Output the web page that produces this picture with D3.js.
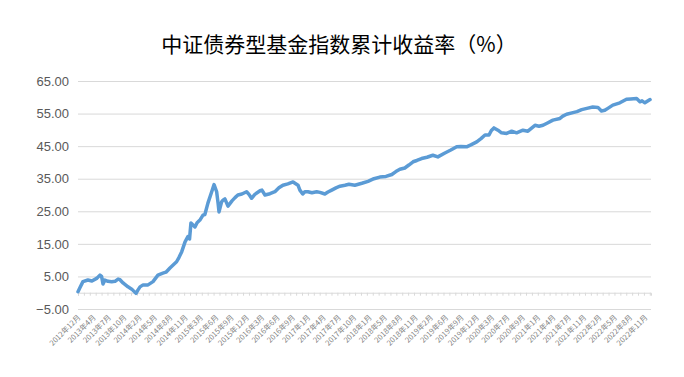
<!DOCTYPE html>
<html lang="zh">
    <head>
        <meta charset="utf-8">
        <title>中证债券型基金指数累计收益率</title>
        <script type="text/javascript" src="https://d3js.org/d3.v7.min.js"></script>
        <style type="text/css">
            body { margin: 0; background: #fff; }
        </style>
    </head>
    <body>
        <script type="text/javascript">

            const width = 684;
            const height = 377;
            const plotLeft = 78, plotRight = 651, plotTop = 81, plotBottom = 309;

            // trading-day index of each sampled point, and its cumulative return (%)
            const dayIndex = [0, 8, 21, 42, 59, 79, 93, 100, 106, 114, 127, 143, 157, 170, 178, 191, 212, 228, 246, 254,
                263, 276, 297, 318, 339, 360, 373, 390, 418, 428, 440, 454, 466, 473, 479, 488, 496, 505, 517, 530,
                538, 551, 567, 577, 588, 594, 598, 609, 615, 623, 636, 653, 666, 678, 695, 715, 725, 736, 750, 772,
                780, 793, 814, 835, 852, 869, 890, 912, 933, 941, 953, 962, 975, 992, 1012, 1026, 1047, 1060, 1076, 1094,
                1111, 1132, 1149, 1174, 1204, 1230, 1255, 1280, 1306, 1331, 1348, 1365, 1386, 1403, 1421, 1437, 1457, 1480, 1505, 1526,
                1556, 1581, 1606, 1624, 1648, 1666, 1691, 1709, 1726, 1743, 1753, 1764, 1781, 1796, 1818, 1839, 1860, 1887, 1908, 1921,
                1938, 1955, 1972, 1993, 2014, 2044, 2056, 2072, 2099, 2116, 2136, 2158, 2183, 2205, 2220, 2234, 2247, 2268, 2298, 2326,
                2344, 2369, 2383, 2392, 2404, 2426];
            const returns = [0.3, 1.5, 3.4, 3.9, 3.6, 4.4, 5.4, 5.0, 2.7, 3.9, 3.5, 3.4, 3.5, 4.2, 4.0, 3.0, 1.8, 1.1, -0.2, 0.8,
                1.8, 2.4, 2.4, 3.4, 5.4, 6.0, 6.3, 7.6, 9.5, 10.8, 12.6, 15.6, 17.2, 16.5, 21.4, 20.8, 20.2, 21.5, 22.3, 23.8,
                24.0, 27.5, 31.0, 33.2, 31.0, 27.5, 24.8, 27.9, 28.4, 28.8, 26.6, 28.2, 29.2, 30.0, 30.3, 31.0, 30.2, 29.0, 30.2, 31.3,
                31.5, 30.0, 30.4, 31.0, 32.2, 33.0, 33.4, 34.0, 33.0, 31.5, 30.3, 31.0, 31.0, 30.7, 31.0, 30.8, 30.3, 30.9, 31.5, 32.2,
                32.7, 33.0, 33.3, 33.0, 33.6, 34.2, 35.0, 35.5, 35.7, 36.3, 37.2, 37.9, 38.3, 39.2, 40.2, 40.6, 41.2, 41.6, 42.2, 41.7,
                42.9, 43.8, 44.8, 44.9, 44.8, 45.4, 46.3, 47.3, 48.4, 48.4, 49.8, 50.6, 49.9, 49.1, 48.9, 49.6, 49.1, 49.9, 49.6, 50.4,
                51.4, 51.1, 51.4, 52.2, 53.0, 53.5, 54.2, 54.8, 55.3, 55.6, 56.2, 56.6, 57.0, 56.9, 55.8, 56.0, 56.6, 57.6, 58.3, 59.4,
                59.5, 59.6, 58.6, 58.9, 58.3, 59.3];

            const lastDay = 2430;
            const labelStep = 65;
            const tickStep = 25;
            const monthLabels = ["2012年12月", "2013年4月", "2013年7月", "2013年10月", "2014年2月", "2014年5月", "2014年8月", "2014年11月",
                "2015年3月", "2015年6月", "2015年9月", "2015年12月", "2016年3月", "2016年6月", "2016年9月", "2017年1月",
                "2017年4月", "2017年7月", "2017年10月", "2018年1月", "2018年5月", "2018年8月", "2018年11月", "2019年2月",
                "2019年6月", "2019年9月", "2019年12月", "2020年3月", "2020年7月", "2020年9月", "2021年1月", "2021年4月",
                "2021年7月", "2021年11月", "2022年2月", "2022年5月", "2022年8月", "2022年11月"];
            const yTicks = [-5, 5, 15, 25, 35, 45, 55, 65];

            const data = dayIndex.map((d, i) => ({day: d, value: returns[i]}));

            const xScale = d3.scaleLinear().domain([0, lastDay]).range([plotLeft, plotRight]);
            const yScale = d3.scaleLinear().domain([-5, 65]).range([plotBottom, plotTop]);

            const svg = d3.select("body").append("svg")
                .attr("width", width)
                .attr("height", height)
                .style("font-family", "'Noto Sans CJK SC', 'Noto Sans', sans-serif");

            // title
            svg.append("text")
                .attr("x", 339)
                .attr("y", 52)
                .attr("text-anchor", "middle")
                .attr("font-size", "21px")
                .attr("fill", "#000")
                .text("中证债券型基金指数累计收益率（%）");

            // gridlines + y labels
            const leftAxis = d3.axisLeft(yScale)
                .tickValues(yTicks)
                .tickFormat(d3.format(".2f"))
                .tickSize(-(plotRight - plotLeft))
                .tickPadding(9);
            const gy = svg.append("g")
                .attr("transform", "translate(" + plotLeft + ",0)")
                .call(leftAxis);
            gy.select(".domain").remove();
            gy.selectAll(".tick line").attr("stroke", "#d9d9d9");
            gy.selectAll(".tick text")
                .attr("fill", "#595959")
                .attr("font-size", "13px")
                .style("font-family", "'Helvetica', 'Liberation Sans', sans-serif");

            // zero axis with small ticks
            const minorTicks = d3.range(0, lastDay + 1, tickStep);
            const bottomAxis = d3.axisBottom(xScale)
                .tickValues(minorTicks)
                .tickSize(3)
                .tickFormat("");
            const gx = svg.append("g")
                .attr("transform", "translate(0," + yScale(0) + ")")
                .call(bottomAxis);
            gx.select(".domain").attr("stroke", "#d9d9d9");
            gx.selectAll(".tick line").attr("stroke", "#d9d9d9");

            // rotated month labels below the chart
            svg.append("g").selectAll("text")
                .data(monthLabels)
                .join("text")
                .attr("transform", (d, i) => "translate(" + (xScale(i * labelStep) + 3) + "," + (plotBottom + 9) + ") rotate(-45)")
                .attr("text-anchor", "end")
                .attr("font-size", "7.5px")
                .attr("fill", "#7f7f7f")
                .text(d => d);

            // the series line
            const line = d3.line()
                .x(d => xScale(d.day))
                .y(d => yScale(d.value));

            svg.append("path")
                .datum(data)
                .attr("fill", "none")
                .attr("stroke", "#5b9bd5")
                .attr("stroke-width", 3.5)
                .attr("stroke-linejoin", "round")
                .attr("stroke-linecap", "round")
                .attr("d", line);

        </script>
    </body>
</html>
